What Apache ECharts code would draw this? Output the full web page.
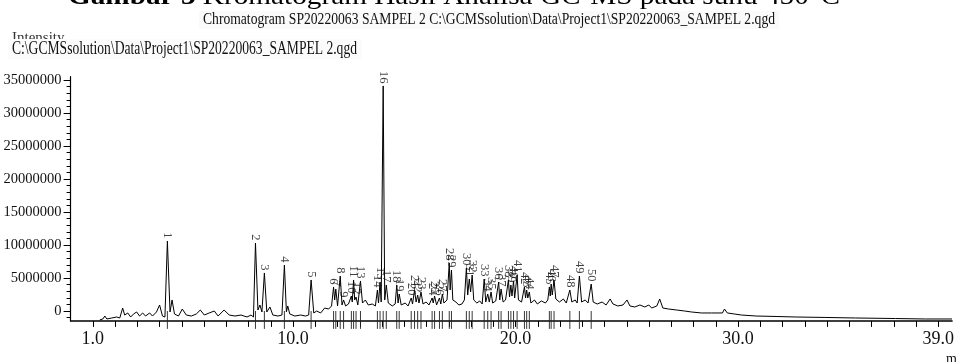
<!DOCTYPE html>
<html><head><meta charset="utf-8">
<script src="https://cdn.jsdelivr.net/npm/echarts@6/dist/echarts.min.js"></script>
<style>html,body{margin:0;padding:0;background:#fff}#c{width:957px;height:362px}</style>
</head><body><div id="c"></div>
<script>
// ---- data (retention time in min, intensity in units of 1,000,000) ----
const traceTime = [1.31,1.45,1.54,1.63,1.85,2.07,2.21,2.34,2.43,2.57,
2.70,2.83,2.97,3.10,3.24,3.37,3.55,3.68,3.86,4.00,
4.13,4.24,4.35,4.47,4.56,4.67,4.85,5.02,5.20,5.43,
5.65,5.83,6.01,6.23,6.46,6.63,6.90,7.13,7.39,7.66,
7.93,8.11,8.22,8.31,8.42,8.51,8.60,8.71,8.82,8.96,
9.09,9.32,9.50,9.61,9.70,9.76,9.85,10.08,10.34,10.56,
10.70,10.81,10.93,11.06,11.24,11.42,11.60,11.73,11.82,11.87,
11.92,12.00,12.12,12.20,12.27,12.36,12.49,12.62,12.66,12.72,
12.77,12.83,12.91,13.03,13.12,13.25,13.38,13.56,13.70,13.79,
13.84,13.91,13.96,14.05,14.12,14.19,14.28,14.46,14.59,14.66,
14.72,14.77,14.86,15.04,15.17,15.31,15.37,15.46,15.53,15.60,
15.66,15.75,15.84,15.98,16.11,16.25,16.30,16.36,16.45,16.58,
16.64,16.71,16.78,16.92,17.02,17.06,17.12,17.18,17.32,17.45,
17.59,17.70,17.79,17.85,17.92,17.98,18.05,18.12,18.26,18.39,
18.50,18.59,18.66,18.75,18.82,18.90,18.97,19.11,19.24,19.29,
19.35,19.44,19.55,19.68,19.73,19.79,19.84,19.91,19.96,20.07,
20.13,20.27,20.40,20.45,20.50,20.55,20.62,20.69,20.85,20.98,
21.16,21.34,21.45,21.52,21.56,21.60,21.65,21.73,21.81,21.97,
22.15,22.28,22.44,22.53,22.68,22.77,22.87,22.97,23.13,23.26,
23.40,23.49,23.67,23.89,24.07,24.25,24.38,24.60,24.83,25.01,
25.14,25.36,25.59,25.81,25.99,26.12,26.35,26.48,26.62,26.88,
27.24,27.60,27.91,28.36,28.81,29.30,29.39,29.52,29.83,30.15,
30.82,31.71,32.61,33.95,35.29,37.08,38.42,39.62];
const traceInt = [-1.36,-1.21,-0.76,-1.21,-1.06,-0.91,-1.06,0.45,-0.61,-0.30,
-0.91,-0.45,-0.15,-0.76,-0.30,-0.76,-0.30,-0.76,-0.15,0.91,
-0.76,-0.91,10.6,-0.15,1.67,-0.45,-0.76,0.30,-0.61,-0.76,
-0.45,0.15,-0.61,-0.30,0.0,-0.76,0.15,-0.61,-0.76,-0.61,
-0.91,-0.61,-0.91,10.3,0.15,0.91,-0.15,5.76,-0.15,0.61,
-0.61,-0.76,-0.61,6.97,-0.15,0.76,-0.45,-0.76,-0.61,-0.76,
-0.61,4.70,-0.30,0.0,-0.30,0.45,0.30,0.76,3.64,1.67,
3.33,0.76,5.30,0.91,1.67,0.76,1.06,2.27,1.36,4.70,
1.67,2.12,0.91,4.55,1.21,1.67,0.91,1.06,0.76,3.18,
1.21,4.39,1.36,34.1,1.67,3.94,1.21,0.76,1.06,3.94,
1.21,2.58,0.91,1.21,0.76,1.97,1.06,3.18,1.36,2.42,
1.21,2.88,1.06,1.36,0.91,1.97,1.21,2.27,0.91,1.97,
1.06,2.58,1.21,1.67,7.27,3.18,6.21,1.67,1.36,0.91,
1.06,1.67,6.52,2.42,4.85,2.88,5.45,1.67,1.21,1.52,
1.06,4.85,1.36,2.58,1.36,2.88,1.21,1.52,4.39,1.67,
3.33,1.36,1.67,4.70,2.12,3.94,2.27,4.55,1.97,5.45,
1.67,1.36,3.64,1.97,3.18,1.97,2.88,1.21,1.67,1.06,
1.52,1.21,1.67,3.64,2.27,4.09,2.42,4.70,1.82,1.36,
1.82,1.21,3.18,1.36,1.67,1.21,5.30,1.36,1.67,1.21,
4.09,1.36,1.06,1.36,0.91,1.82,1.06,0.76,0.91,1.67,
0.76,0.61,0.91,0.61,0.91,0.45,0.76,1.82,0.45,0.30,
0.15,0.0,-0.15,-0.30,-0.30,-0.30,0.30,-0.30,-0.45,-0.61,
-0.76,-0.83,-0.91,-0.98,-1.06,-1.14,-1.21,-1.21];
const peakNo = [1,2,3,4,5,6,7,8,9,10,11,12,13,14,15,16,17,18,19,20,21,22,23,24,25,
26,27,28,29,30,31,32,33,34,35,36,37,38,39,40,41,42,43,44,45,46,47,48,49,50];
const peakTime = [4.35,8.31,8.71,9.61,10.81,11.82,11.92,12.12,12.27,12.62,
12.72,12.83,13.03,13.79,13.91,14.05,14.19,14.66,14.77,15.31,
15.46,15.60,15.75,16.25,16.36,16.58,16.71,17.02,17.12,17.79,
17.92,18.05,18.59,18.75,18.90,19.24,19.35,19.68,19.79,19.91,
20.07,20.40,20.50,20.62,21.52,21.60,21.73,22.44,22.87,23.40];
const peakInt = [10.6,10.3,5.76,6.97,4.70,3.64,3.33,5.30,1.67,2.27,
4.70,2.12,4.55,3.18,4.39,34.1,3.94,3.94,2.58,1.97,
3.18,2.42,2.88,1.97,2.27,1.97,2.58,7.27,6.21,6.52,
4.85,5.45,4.85,2.58,2.88,4.39,3.33,4.70,3.94,4.55,
5.45,3.64,3.18,2.88,3.64,4.09,4.70,3.18,5.30,4.09];
const xLabelValues = [1, 10, 20, 30, 39];
const xTickValues = [1,2,3,4,5,6,7,8,9,10,11,12,13,14,15,16,17,18,19,20,
21,22,23,24,25,26,27,28,29,30,31,32,33,34,35,36,37,38,39];
const yLabelValues = [0, 5, 10, 15, 20, 25, 30, 35];
const yMinorValues = [-1,1,2,3,4,6,7,8,9,11,12,13,14,16,17,18,19,21,22,23,24,26,27,28,29,31,32,33,34];
const titleBold = 'Gambar 3';
const titleRest = ' Kromatogram Hasil Analisa GC-MS pada suhu 450°C';
const subTitle = 'Chromatogram SP20220063 SAMPEL 2 C:\\GCMSsolution\\Data\\Project1\\SP20220063_SAMPEL 2.qgd';
const yName = 'Intensity';
const filePath = 'C:\\GCMSsolution\\Data\\Project1\\SP20220063_SAMPEL 2.qgd';
const xName = 'min';

if (traceTime.length !== traceInt.length) throw new Error('trace length mismatch ' + traceTime.length + ' ' + traceInt.length);

const SERIF = "'Liberation Serif','Times New Roman',serif";
const mctx = document.createElement('canvas').getContext('2d');
function tw(t, font){ mctx.font = font; return mctx.measureText(t).width; }

const tFontB = 'bold 26px ' + SERIF, tFont = '26px ' + SERIF;
const wB = tw(titleBold, tFontB), wR = tw(titleRest, tFont);
const tScale = 772 / (wB + wR);
const sFont = '16px ' + SERIF;
const sScale = 572 / tw(subTitle, sFont);
const pFont = '18px ' + SERIF;
const pScale = 345 / tw(filePath, pFont);

const chart = echarts.init(document.getElementById('c'), null, {renderer: 'canvas'});
const Y_MIN = -1.5, Y_MAX = 35.5;
chart.setOption({
  animation: false,
  backgroundColor: '#fff',
  grid: {left: 70.6, right: 0, top: 76.7, bottom: 41.1, containLabel: false},
  xAxis: {
    type: 'value', min: 0, max: 39.62,
    axisLine: {show: true, onZero: false, lineStyle: {color: '#000', width: 1.5}},
    axisTick: {show: true, customValues: xTickValues, length: 6, lineStyle: {color: '#000', width: 1}},
    axisLabel: {customValues: xLabelValues, formatter: v => v.toFixed(1), color: '#111',
      fontFamily: SERIF, fontSize: 18, margin: 9},
    splitLine: {show: false}
  },
  yAxis: [{
    type: 'value', min: Y_MIN, max: Y_MAX,
    axisLine: {show: true, lineStyle: {color: '#000', width: 1.2}},
    axisTick: {show: true, customValues: yLabelValues, length: 7, lineStyle: {color: '#000'}},
    axisLabel: {customValues: yLabelValues, formatter: v => String(Math.round(v * 1000000)),
      color: '#111', fontFamily: SERIF, fontSize: 14.5, margin: 9},
    splitLine: {show: false}
  }, {
    type: 'value', min: Y_MIN, max: Y_MAX, position: 'left',
    axisLine: {show: false},
    axisTick: {show: true, customValues: yMinorValues, length: 4, lineStyle: {color: '#000'}},
    axisLabel: {show: false},
    splitLine: {show: false}
  }],
  series: [{
    type: 'line', name: 'TIC', yAxisIndex: 0,
    data: traceTime.map((t, i) => [t, traceInt[i]]),
    symbol: 'none', lineStyle: {color: '#000', width: 1}, z: 3
  }, {
    type: 'custom', name: 'marks', yAxisIndex: 0,
    data: peakTime.map(t => [t, 0]),
    clip: false,
    renderItem: function (params, api) {
      const top = api.coord([api.value(0), api.value(1)]);
      const bot = api.coord([api.value(0), Y_MIN]);
      return {type: 'line', shape: {x1: top[0], y1: top[1], x2: top[0], y2: bot[1] + 8},
        style: {stroke: '#222', lineWidth: 0.9}};
    },
    z: 2
  }, {
    type: 'scatter', name: 'peaks', yAxisIndex: 0,
    data: peakTime.map((t, i) => [t, peakInt[i], peakNo[i]]),
    symbolSize: 1, itemStyle: {color: 'rgba(0,0,0,0)'},
    label: {show: true, position: 'top', distance: 2, rotate: -90, align: 'right', verticalAlign: 'middle',
      formatter: p => String(p.value[2]), fontFamily: SERIF, fontSize: 12.5, color: '#111'},
    z: 4
  }],
  graphic: [
    {type: 'text', x: 68, y: -2.5, scaleX: tScale, style: {text: titleBold, font: tFontB, fill: '#000', align: 'left', verticalAlign: 'middle'}},
    {type: 'text', x: 68 + wB * tScale, y: -2.5, scaleX: tScale, style: {text: titleRest, font: tFont, fill: '#000', align: 'left', verticalAlign: 'middle'}},
    {type: 'rect', shape: {x: 199, y: 11, width: 580, height: 18}, style: {fill: '#fafafa'}},
    {type: 'text', x: 203, y: 19.5, scaleX: sScale, style: {text: subTitle, font: sFont, fill: '#111', align: 'left', verticalAlign: 'middle'}},
    {type: 'text', x: 12, y: 38, style: {text: yName, font: '15px ' + SERIF, fill: '#333', align: 'left', verticalAlign: 'middle'}},
    {type: 'rect', shape: {x: 8, y: 39, width: 354, height: 20}, style: {fill: '#fbfbfb'}},
    {type: 'text', x: 12, y: 49, scaleX: pScale, style: {text: filePath, font: pFont, fill: '#111', align: 'left', verticalAlign: 'middle'}},
    {type: 'text', x: 946, y: 352, style: {text: xName, font: '14px ' + SERIF, fill: '#111', align: 'left', verticalAlign: 'top'}}
  ]
});
</script></body></html>
